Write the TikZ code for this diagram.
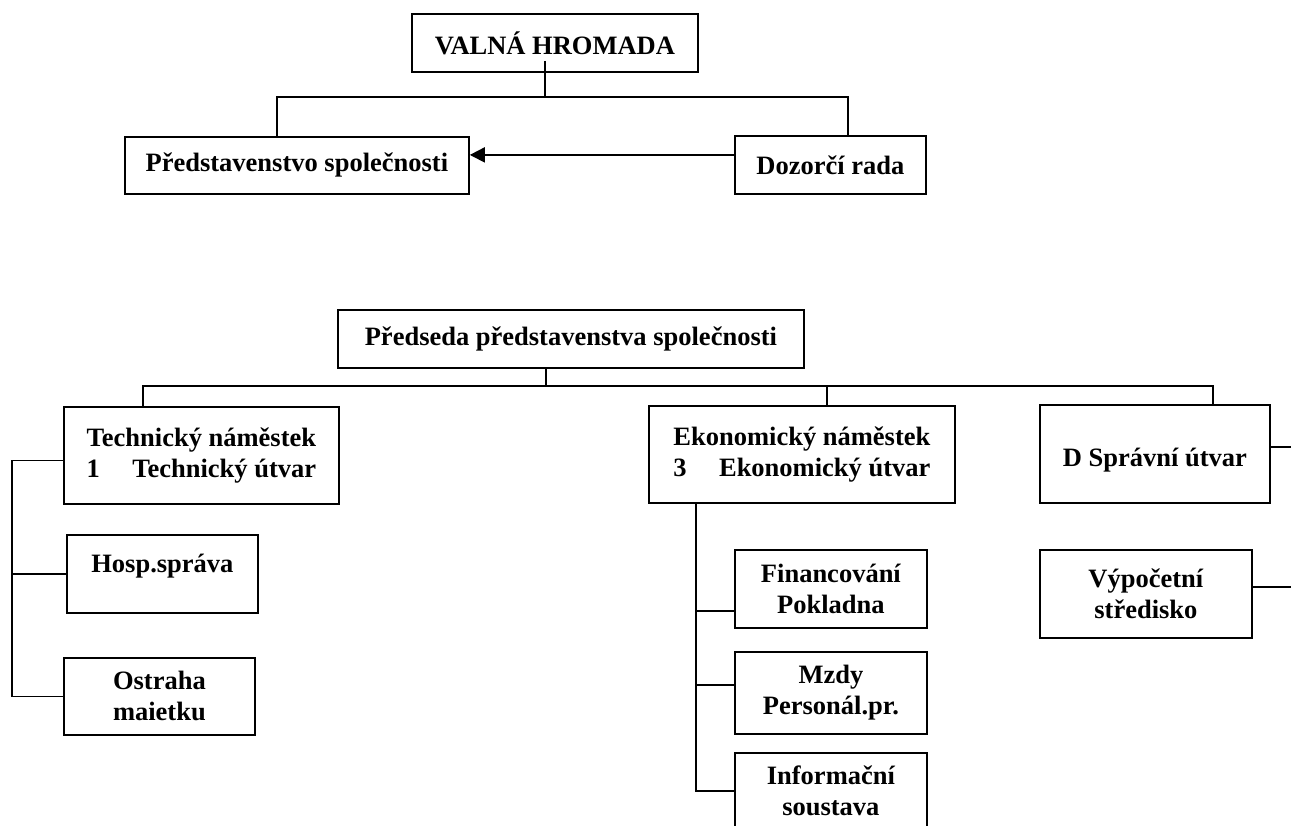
\documentclass[tikz,border=0pt]{standalone}
\usepackage{fontspec}
\setmainfont{Liberation Serif}
\usetikzlibrary{arrows.meta}
\begin{document}
\begin{tikzpicture}[x=1pt,y=-1pt,
  box/.style={draw, line width=1.8pt, inner sep=0pt, anchor=north west, align=center,
    font=\bfseries\fontsize{26.5}{31}\selectfont},
  conn/.style={line width=1.8pt}]
\useasboundingbox (0,0) rectangle (1291,825);
\clip (0,0) rectangle (1291,825);
% top chart
\node[box, minimum width=286pt, minimum height=58pt] (vh) at (411,13) {VALNÁ HROMADA};
\node[box, minimum width=344pt, minimum height=57pt] (pr) at (124,136) {Představenstvo společnosti};
\node[box, minimum width=191pt, minimum height=58pt] (dz) at (734,135) {Dozorčí rada};
% lower chart
\node[box, minimum width=466pt, minimum height=58pt] (ps) at (337,309) {Předseda představenstva společnosti};
\node[box, minimum width=275pt, minimum height=97pt] (tech) at (63,406)
  {\begin{tabular}{@{}l@{}}Technický náměstek\\1\hfill Technický útvar\end{tabular}};
\node[box, minimum width=306pt, minimum height=97pt] (ekon) at (648,405)
  {\begin{tabular}{@{}l@{}}Ekonomický náměstek\\3\hfill Ekonomický útvar\end{tabular}};
\node[box, minimum width=230pt, minimum height=98pt] (dsp) at (1039,404) {~\\D Správní útvar};
\node[box, minimum width=191pt, minimum height=78pt] (hosp) at (66,534) {Hosp.správa\\[-10pt]~};
\node[box, minimum width=191pt, minimum height=77pt] (ostr) at (63,657) {Ostraha\\maietku};
\node[box, minimum width=192pt, minimum height=78pt] (fin) at (734,549) {Financování\\Pokladna};
\node[box, minimum width=192pt, minimum height=82pt] (mzdy) at (734,651) {Mzdy\\Personál.pr.};
\node[box, minimum width=192pt, minimum height=76pt] (info) at (734,752) {Informační\\soustava};
\node[box, minimum width=212pt, minimum height=88pt] (vyp) at (1039,549) {Výpočetní\\středisko};
% top connectors
\coordinate (b1l) at (277,97);
\coordinate (b1r) at (848,97);
\draw[conn] ([xshift=-10pt,yshift=12pt]vh.south) -- ([xshift=-10pt]vh.south |- b1l);
\draw[conn] (b1l |- pr.north) -- (b1l) -- (b1r) -- (b1r |- dz.north);
\draw[conn, -{Triangle[length=15pt,width=15pt]}] ([yshift=10pt]dz.west) -- ([yshift=10pt]dz.west -| pr.east);
% lower connectors
\coordinate (b2l) at (143,386);
\coordinate (b2m) at (827,386);
\coordinate (b2r) at (1213,386);
\draw[conn] ([xshift=-25pt]ps.south) -- ([xshift=-25pt]ps.south |- b2l);
\draw[conn] (b2l |- tech.north) -- (b2l) -- (b2r) -- (b2r |- dsp.north);
\draw[conn] (b2m) -- (b2m |- ekon.north);
% left bracket
\coordinate (lb) at (12,0);
\draw[conn] ([yshift=-5pt]tech.west) -| (lb |- ostr.west) -- (ostr.west);
\draw[conn] (lb |- hosp.west) -- (hosp.west);
% economic bracket
\coordinate (eb) at (696,0);
\draw[conn] (eb |- ekon.south) -- (eb |- info.west) -- (info.west);
\draw[conn] (eb |- fin.west) ++(0,22) -- ([yshift=-22pt]fin.west);
\draw[conn] (eb |- mzdy.west) ++(0,-8) -- ([yshift=8pt]mzdy.west);
% right stubs
\draw[conn] ([yshift=7pt]dsp.east) -- ++(30,0);
\draw[conn] ([yshift=7pt]vyp.east) -- ++(50,0);
\end{tikzpicture}
\end{document}
